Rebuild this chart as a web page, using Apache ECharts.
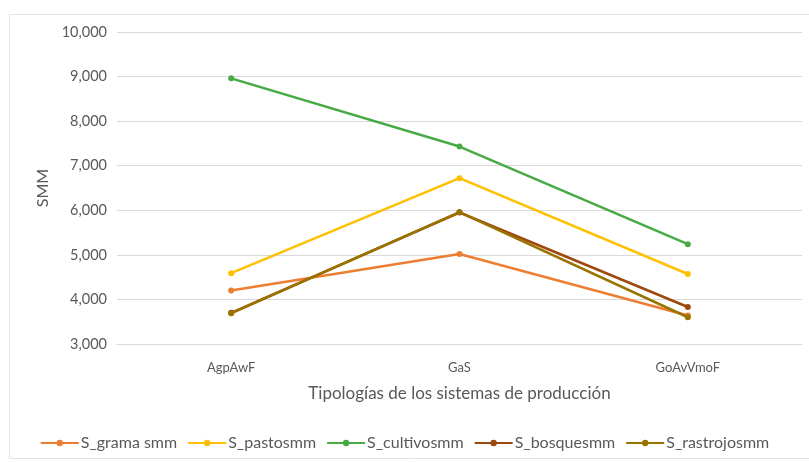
<!DOCTYPE html>
<html>
<head>
<meta charset="utf-8">
<script src="https://cdn.jsdelivr.net/npm/echarts@6/dist/echarts.min.js"></script>
<style>
  html, body { margin: 0; padding: 0; background: #ffffff; }
  #chart { width: 809px; height: 462px; }
</style>
</head>
<body>
<div id="chart"></div>
<script>
// Production-system typologies on the x axis
const categories = ['AgpAwF', 'GaS', 'GoAvVmoF'];

// SMM per land-use class
const gramaSmm = [4200, 5020, 3640];
const pastosSmm = [4590, 6720, 4570];
const cultivosSmm = [8960, 7430, 5240];
const bosquesSmm = [3700, 5950, 3830];
const rastrojosSmm = [3690, 5960, 3600];

const seriesNames = ['S_grama smm', 'S_pastosmm', 'S_cultivosmm', 'S_bosquesmm', 'S_rastrojosmm'];
const seriesData = [gramaSmm, pastosSmm, cultivosSmm, bosquesSmm, rastrojosSmm];
const seriesColors = ['#ED7D31', '#FFC000', '#48AA45', '#9E480E', '#997300'];

const font = 'Lato, "Open Sans", sans-serif';
const textColor = '#595959';

const chart = echarts.init(document.getElementById('chart'), null, { renderer: 'canvas' });

chart.setOption({
  animation: false,
  backgroundColor: '#ffffff',
  graphic: [{
    type: 'rect',
    left: 7, top: 12,
    shape: { width: 800, height: 444 },
    style: { fill: 'none', stroke: '#e3e3e3', lineWidth: 1 },
    silent: true
  }],
  grid: { left: 117, right: 7, top: 32, bottom: 118 },
  legend: {
    top: 430,
    left: 'center',
    itemWidth: 38,
    itemHeight: 8,
    itemGap: 10,
    textStyle: { color: textColor, fontFamily: font, fontSize: 16, padding: [0, 0, 0, -3] },
    data: seriesNames
  },
  xAxis: {
    type: 'category',
    data: categories,
    boundaryGap: true,
    name: 'Tipologías de los sistemas de producción',
    nameLocation: 'middle',
    nameGap: 41,
    nameTextStyle: { color: textColor, fontFamily: font, fontSize: 17 },
    axisLine: { show: true, lineStyle: { color: '#d9d9d9', width: 1 } },
    axisTick: { show: false },
    axisLabel: { color: textColor, fontFamily: font, fontSize: 13, margin: 17 }
  },
  yAxis: {
    type: 'value',
    min: 3000,
    max: 10000,
    interval: 1000,
    name: 'SMM',
    nameLocation: 'middle',
    nameGap: 64,
    nameRotate: 90,
    nameTextStyle: { color: textColor, fontFamily: font, fontSize: 16 },
    axisLine: { show: false },
    axisTick: { show: false },
    splitLine: { lineStyle: { color: '#d9d9d9', width: 1 } },
    axisLabel: {
      color: textColor, fontFamily: font, fontSize: 14.5, margin: 10,
      formatter: v => v.toLocaleString('en-US')
    }
  },
  series: seriesNames.map((n, i) => ({
    name: n,
    type: 'line',
    data: seriesData[i],
    symbol: 'circle',
    symbolSize: 6,
    lineStyle: { color: seriesColors[i], width: 2.5 },
    itemStyle: { color: seriesColors[i] },
    z: 2 + i
  }))
});
</script>
</body>
</html>
